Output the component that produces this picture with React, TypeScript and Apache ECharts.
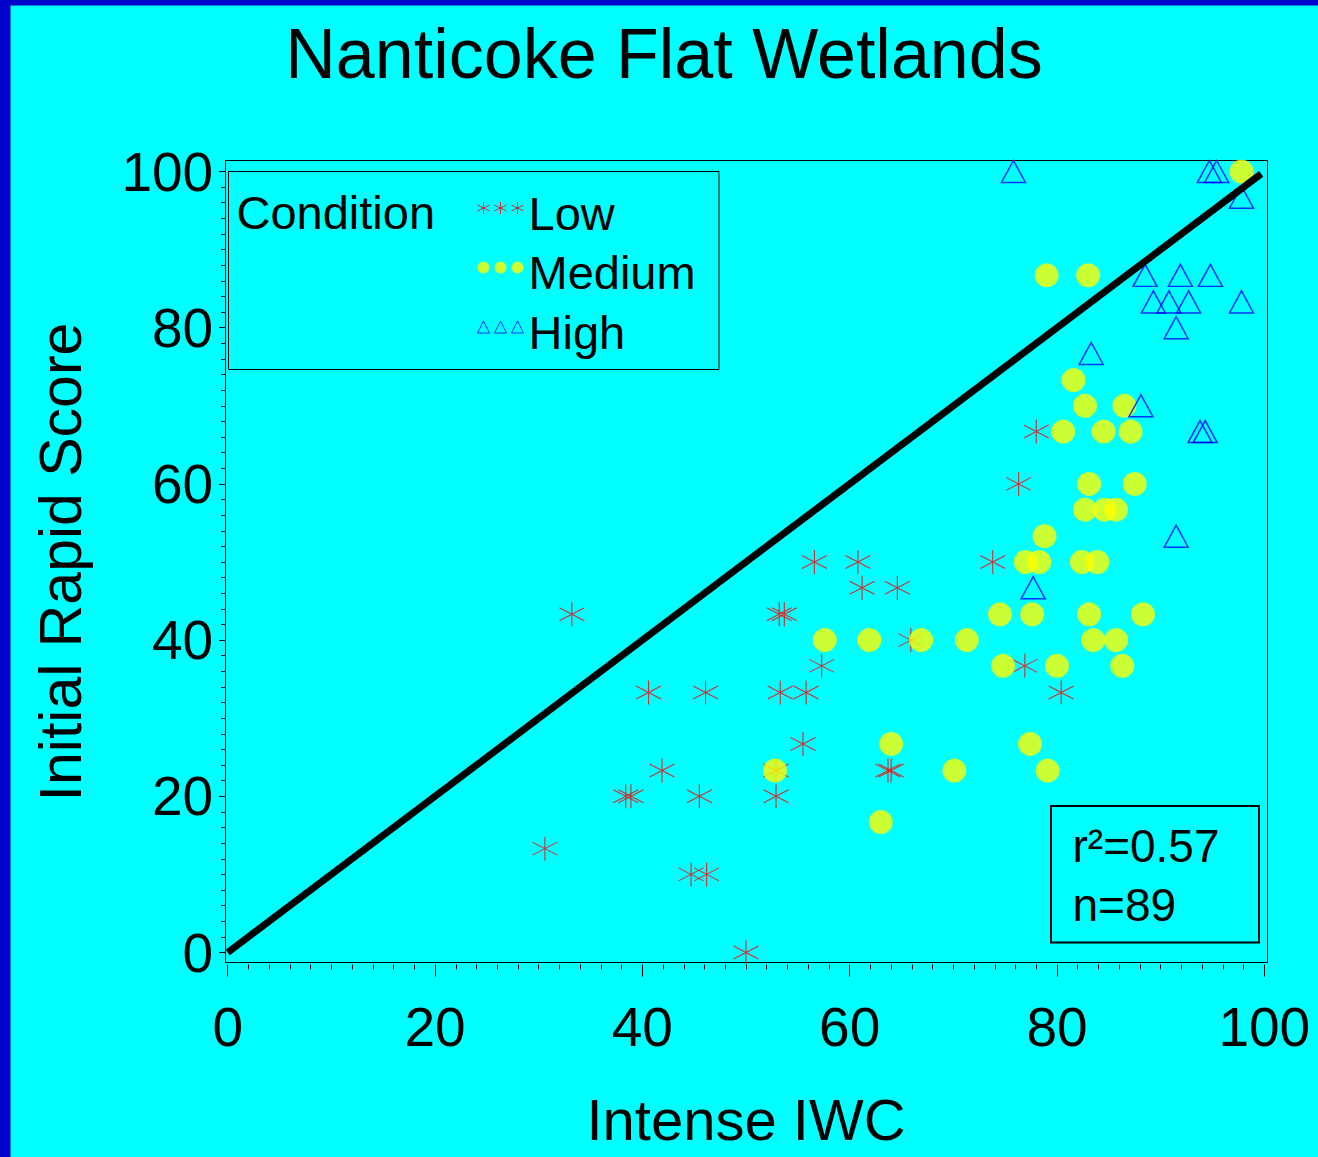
import React, { useEffect, useRef } from "react";
import * as echarts from "echarts";

// ---- Data ----
const titleText = "Nanticoke Flat Wetlands";
const xAxisName = "Intense IWC";
const yAxisName = "Initial Rapid Score";
const conditionLabel = "Condition";
const categories = ["Low", "Medium", "High"];
const statsLines = ["r\u00B2=0.57", "n=89"];

const lowX = [30.6, 33.2, 38.4, 38.9, 40.6, 41.9, 46.1, 45.5, 44.7, 46.2, 50.0, 53.2, 53.7, 56.6, 60.8, 61.2, 64.6, 57.3, 53.3, 55.8, 55.5, 52.9, 52.9, 63.7, 64.0, 73.8, 65.9, 78.0, 76.3, 76.9, 80.4];
const lowY = [13.3, 43.3, 20, 20, 33.3, 23.3, 33.3, 20, 10, 10, 0, 43.3, 43.3, 50, 50, 46.7, 46.7, 36.7, 33.3, 33.3, 26.7, 23.3, 20, 23.3, 23.3, 50, 40, 66.7, 60, 36.7, 33.3];

const medX = [97.8, 79.0, 83.0, 81.6, 82.7, 86.5, 80.6, 84.5, 87.1, 83.1, 87.5, 82.7, 84.6, 85.7, 78.8, 77.0, 78.3, 82.4, 83.9, 74.5, 77.6, 83.1, 88.3, 57.6, 61.9, 66.9, 71.3, 83.5, 85.7, 74.8, 80.0, 86.3, 64.0, 77.4, 52.8, 70.1, 79.1, 63.0];
const medY = [100, 86.7, 86.7, 73.3, 70, 70, 66.7, 66.7, 66.7, 60, 60, 56.7, 56.7, 56.7, 53.3, 50, 50, 50, 50, 43.3, 43.3, 43.3, 43.3, 40, 40, 40, 40, 40, 40, 36.7, 36.7, 36.7, 26.7, 26.7, 23.3, 23.3, 23.3, 16.7];

const hiX = [75.8, 94.7, 95.4, 97.8, 88.5, 91.9, 94.8, 89.3, 90.8, 92.7, 97.8, 91.5, 83.3, 88.1, 93.8, 94.3, 91.5, 77.7];
const hiY = [100, 100, 100, 96.7, 86.7, 86.7, 86.7, 83.3, 83.3, 83.3, 83.3, 80, 76.7, 70, 66.7, 66.7, 53.3, 46.7];

const refLineX = [0, 99.7];
const refLineY = [0, 99.7];

const axisMin = 0;
const axisMax = 100;
const axisStep = 20;

// ---- Styling ----
const FONT = "'Liberation Sans', Arial, Helvetica, sans-serif";
const CYAN = "#00FFFF";
const BORDER_BLUE = "#0000C8";
const RED = "#FF0000";
const YELLOW = "#FFFF00";
const BLUE = "#0000FF";

const ASTERISK = "path://M12.5,0L12.5,24M0,5.5L25,18.5M0,18.5L25,5.5";
// legend icons: three small markers drawn in the top 12px of a 46x22 box (trailing moveTo sets the box)
const LOW_ICON = "path://M6,0L6,12M0,3L12,9M0,9L12,3M23,0L23,12M17,3L29,9M17,9L29,3M40,0L40,12M34,3L46,9M34,9L46,3M0,22";
const MED_ICON = "path://M0,6A6,6,0,1,1,12,6A6,6,0,1,1,0,6ZM17,6A6,6,0,1,1,29,6A6,6,0,1,1,17,6ZM34,6A6,6,0,1,1,46,6A6,6,0,1,1,34,6ZM0,22";
const HI_ICON = "path://M6,0L12,12L0,12ZM23,0L29,12L17,12ZM40,0L46,12L34,12ZM0,22";

const zip = (xs: number[], ys: number[]) => xs.map((x, i) => [x, ys[i]]);

function buildOption(): any {
  const base = {
    type: "value",
    min: axisMin,
    max: axisMax,
    interval: axisStep,
    axisLine: { show: false },
    splitLine: { show: false },
  };
  const hidden = { ...base, show: false };
  return {
    animation: false,
    backgroundColor: CYAN,
    grid: [
      // 0: data area
      { left: 227.7, right: 53.7, top: 171.5, bottom: 204.5 },
      // 1: carries the visible y axis (on the frame's left edge)
      { left: 225.2, right: 53.7, top: 171.5, bottom: 204.5 },
      // 2: carries the visible x axis (just below the frame)
      { left: 227.7, right: 53.7, top: 171.5, bottom: 192.5 },
    ],
    xAxis: [
      { ...hidden, gridIndex: 0 },
      { ...hidden, gridIndex: 1 },
      {
        ...base,
        gridIndex: 2,
        axisTick: { show: true, length: 12, lineStyle: { color: "#000", width: 1 } },
        minorTick: { show: true, splitNumber: 10, length: 5, lineStyle: { color: "#000", width: 1 } },
        axisLabel: { fontSize: 55, fontFamily: FONT, color: "#000", margin: 62, verticalAlign: "middle" },
        name: xAxisName,
        nameLocation: "middle",
        nameGap: 155,
        nameTextStyle: { fontSize: 58, fontFamily: FONT, color: "#000", verticalAlign: "middle" },
      },
    ],
    yAxis: [
      { ...hidden, gridIndex: 0 },
      {
        ...base,
        gridIndex: 1,
        axisTick: { show: true, length: 6, lineStyle: { color: "#000", width: 1 } },
        minorTick: { show: true, splitNumber: 10, length: 4, lineStyle: { color: "#000", width: 1 } },
        axisLabel: { fontSize: 55, fontFamily: FONT, color: "#000", margin: 12 },
        name: yAxisName,
        nameLocation: "middle",
        nameGap: 164,
        nameRotate: 90,
        nameTextStyle: { fontSize: 59, fontFamily: FONT, color: "#000", verticalAlign: "middle" },
      },
      { ...hidden, gridIndex: 2 },
    ],
    legend: {
      show: true,
      orient: "vertical",
      left: 477,
      top: 189.5,
      padding: 0,
      itemWidth: 46,
      itemHeight: 22,
      itemGap: 12.5,
      selectedMode: false,
      textStyle: { fontSize: 47, fontFamily: FONT, color: "#000", lineHeight: 46 },
      data: [
        { name: categories[0], icon: LOW_ICON, itemStyle: { color: "rgba(0,0,0,0)", borderColor: RED, borderWidth: 1 } },
        { name: categories[1], icon: MED_ICON, itemStyle: { color: YELLOW, borderWidth: 0 } },
        { name: categories[2], icon: HI_ICON, itemStyle: { color: "rgba(0,0,0,0)", borderColor: BLUE, borderWidth: 1 } },
      ],
    },
    graphic: [
      { type: "rect", left: 0, top: 0, shape: { x: 0, y: 0, width: 10.5, height: 1157 }, style: { fill: BORDER_BLUE }, silent: true },
      { type: "rect", left: 0, top: 0, shape: { x: 0, y: 0, width: 1318, height: 5.5 }, style: { fill: BORDER_BLUE }, silent: true },
      {
        type: "rect",
        shape: { x: 225.5, y: 160.5, width: 1042, height: 802 },
        style: { fill: "none", stroke: "#000", lineWidth: 1 },
        silent: true,
        z: 1,
      },
      {
        type: "rect",
        shape: { x: 228.5, y: 171.5, width: 490.5, height: 198 },
        style: { fill: "none", stroke: "#000", lineWidth: 1 },
        silent: true,
      },
      {
        type: "text",
        x: 236.5,
        y: 212.5,
        style: { text: conditionLabel, fontSize: 47, fontFamily: FONT, fill: "#000", align: "left", verticalAlign: "middle" },
        silent: true,
      },
      {
        type: "text",
        x: 664,
        y: 53.5,
        style: { text: titleText, fontSize: 70, fontFamily: FONT, fill: "#000", align: "center", verticalAlign: "middle" },
        silent: true,
      },
      {
        type: "rect",
        shape: { x: 1051, y: 806, width: 208, height: 136.5 },
        style: { fill: "none", stroke: "#000", lineWidth: 2 },
        silent: true,
      },
      {
        type: "text",
        x: 1072.5,
        y: 846,
        style: { text: statsLines[0], fontSize: 46, fontFamily: FONT, fill: "#000", align: "left", verticalAlign: "middle" },
        silent: true,
      },
      {
        type: "text",
        x: 1072.5,
        y: 905,
        style: { text: statsLines[1], fontSize: 46, fontFamily: FONT, fill: "#000", align: "left", verticalAlign: "middle" },
        silent: true,
      },
    ],
    series: [
      {
        name: categories[0],
        type: "scatter",
        xAxisIndex: 0,
        yAxisIndex: 0,
        data: zip(lowX, lowY),
        symbol: ASTERISK,
        symbolSize: [25, 24],
        itemStyle: { color: "rgba(0,0,0,0)", borderColor: RED, borderWidth: 1.1 },
        z: 2,
      },
      {
        name: categories[1],
        type: "scatter",
        xAxisIndex: 0,
        yAxisIndex: 0,
        data: zip(medX, medY),
        symbol: "circle",
        symbolSize: 24,
        itemStyle: { color: YELLOW, borderWidth: 0 },
        z: 3,
      },
      {
        name: categories[2],
        type: "scatter",
        xAxisIndex: 0,
        yAxisIndex: 0,
        data: zip(hiX, hiY),
        symbol: "triangle",
        symbolSize: [24, 22],
        itemStyle: { color: "rgba(0,0,0,0)", borderColor: BLUE, borderWidth: 1.5 },
        z: 4,
      },
      {
        name: "1:1",
        type: "line",
        xAxisIndex: 0,
        yAxisIndex: 0,
        data: zip(refLineX, refLineY),
        symbol: "none",
        lineStyle: { color: "#000", width: 7, cap: "butt" },
        z: 5,
        silent: true,
      },
    ],
  };
}

export default function App() {
  const ref = useRef<HTMLDivElement>(null);
  useEffect(() => {
    if (!ref.current) return;
    const chart = echarts.init(ref.current, null, { renderer: "svg" });
    chart.setOption(buildOption());
    return () => {
      chart.dispose();
    };
  }, []);
  return (
    <div
      ref={ref}
      style={{ position: "fixed", left: 0, top: 0, width: 1318, height: 1157 }}
    />
  );
}
